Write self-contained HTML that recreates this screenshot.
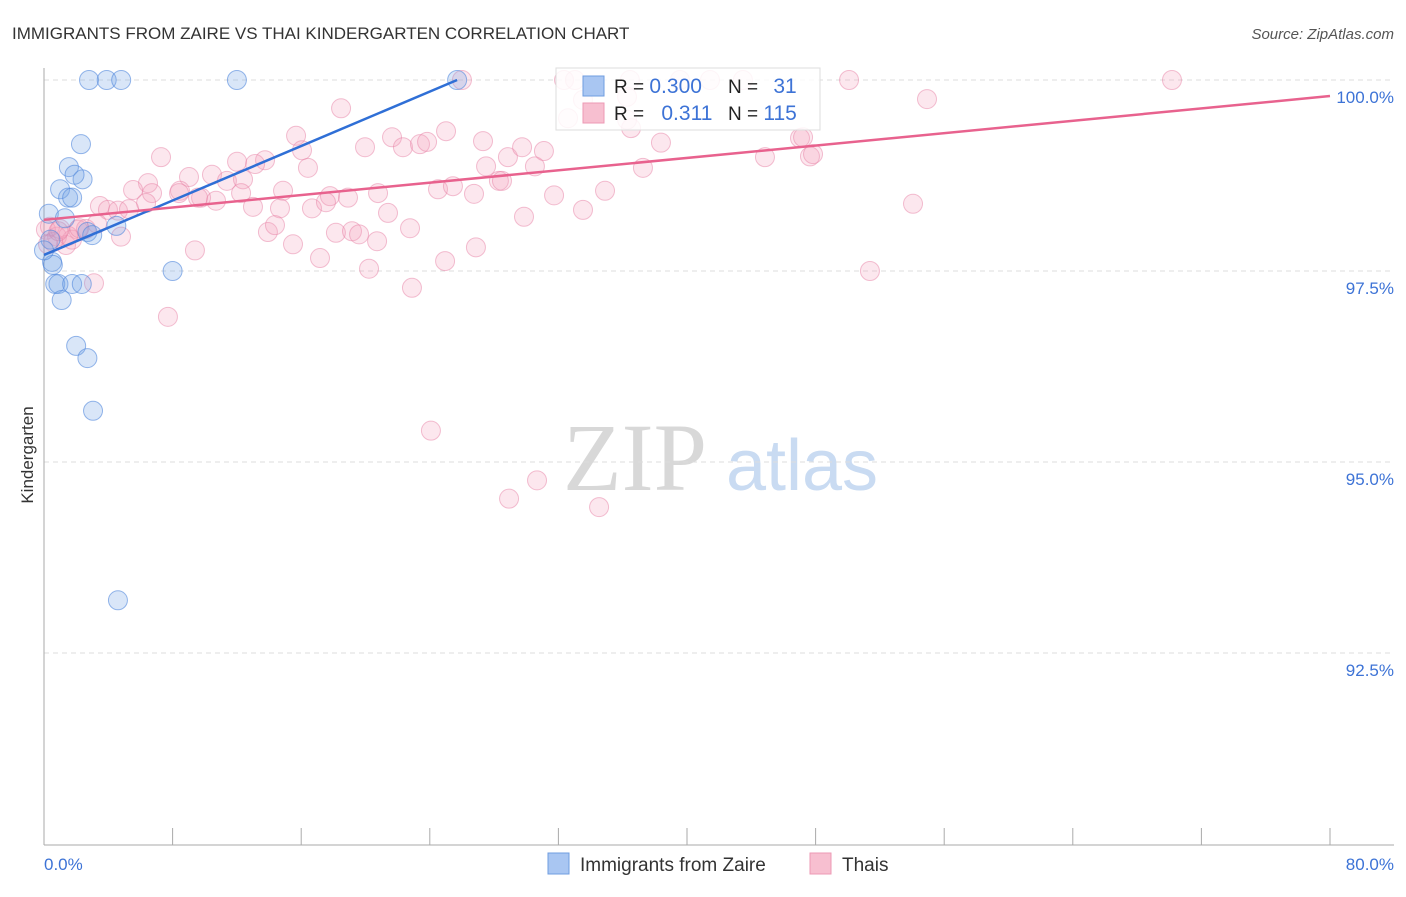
<!DOCTYPE html>
<html><head><meta charset="utf-8"><style>
body{margin:0;background:#fff;font-family:"Liberation Sans",sans-serif;}
svg text{font-family:"Liberation Sans",sans-serif;}
</style></head><body>
<svg id="c" width="1406" height="892" xmlns="http://www.w3.org/2000/svg">
<text x="12" y="39" font-size="17" fill="#333">IMMIGRANTS FROM ZAIRE VS THAI KINDERGARTEN CORRELATION CHART</text>
<text x="1394" y="39" font-size="15" fill="#555" text-anchor="end" font-style="italic">Source: ZipAtlas.com</text>
<text x="635" y="490" font-size="96" fill="#d8d8d8" text-anchor="middle" style="font-family:'Liberation Serif',serif">ZIP</text>
<text x="802" y="490" font-size="72" fill="#c9dbf2" text-anchor="middle">atlas</text>
<g id="grid"></g><g id="axes"></g><g id="pts"></g><g id="lines"></g>
<text x="33" y="455" font-size="17" fill="#333" text-anchor="middle" transform="rotate(-90 33 455)">Kindergarten</text>
<text x="44" y="870" font-size="17" fill="#3d73d6">0.0%</text>
<text x="1394" y="870" font-size="17" fill="#3d73d6" text-anchor="end">80.0%</text>
<g>
<rect x="556" y="68" width="264" height="62" fill="#fff" fill-opacity="0.85" stroke="#ddd"/>
<rect x="583" y="76" width="21" height="20" fill="#a9c6f2" stroke="#6f9de0"/>
<rect x="583" y="103" width="21" height="20" fill="#f7bfd0" stroke="#ec9ab4"/>
<text x="614" y="93" font-size="19" fill="#222">R = <tspan fill="#3d73d6" font-size="21">0.300</tspan></text>
<text x="728" y="93" font-size="19" fill="#222">N = <tspan fill="#3d73d6" dx="10" font-size="21">31</tspan></text>
<text x="614" y="120" font-size="19" fill="#222">R = <tspan fill="#3d73d6" dx="12" font-size="21">0.311</tspan></text>
<text x="728" y="120" font-size="19" fill="#222">N = <tspan fill="#3d73d6" font-size="21">115</tspan></text>
</g>
<g>
<rect x="548" y="853" width="21" height="21" fill="#a9c6f2" stroke="#6f9de0"/>
<text x="580" y="871" font-size="19" fill="#333">Immigrants from Zaire</text>
<rect x="810" y="853" width="21" height="21" fill="#f7bfd0" stroke="#ec9ab4"/>
<text x="842" y="871" font-size="19" fill="#333">Thais</text>
</g>
</svg>
<script>
const yTicks=[100,97.5,95,92.5];
const yTickLabels=["100.0%","97.5%","95.0%","92.5%"];
const blueX=[2.8,3.9,4.8,12.0,25.7,2.3,1.55,2.4,1.9,1.0,1.5,1.75,0.3,1.3,0.4,2.7,3.0,4.5,0.5,0.55,0.7,0.9,1.75,2.35,1.1,8.0,2.0,2.7,3.05,4.6,0];
const blueY=[100,100,100,100,100,99.16,98.86,98.70,98.76,98.57,98.46,98.46,98.25,98.19,97.91,98.01,97.97,98.09,97.62,97.58,97.33,97.33,97.33,97.33,97.12,97.50,96.52,96.36,95.67,93.19,97.77];
const pinkX=[18.48,15.68,16.05,7.28,12.01,13.75,13.13,16.42,9.02,10.45,11.38,12.38,6.47,5.54,8.46,8.40,6.72,6.35,9.77,10.70,12.26,14.87,9.58,3.48,3.98,4.60,5.29,13.00,14.68,16.67,17.79,18.91,17.54,20.78,21.40,24.51,25.44,26.75,28.30,31.73,33.53,34.90,29.86,18.16,19.16,19.60,20.72,22.77,13.93,14.37,15.49,17.17,20.22,22.89,24.95,26.87,9.39,7.71,3.11,0.81,1.37,1.74,2.12,2.61,4.79,0.12,0.37,0.56,1.00,0.25,19.97,21.65,22.33,23.39,23.83,25.01,27.31,27.50,28.49,28.86,29.74,30.54,31.10,36.52,38.38,37.26,44.85,47.03,47.22,47.65,47.84,50.08,54.93,70.17,54.06,51.38,24.07,30.67,28.93,34.53,26.00,32.35,33.03,33.53,32.60,36.45,39.56,41.43,36.27,43.48,36.27,1.5,2.2,0.9,3.3];
const pinkY=[99.63,99.27,99.08,98.99,98.93,98.95,98.90,98.85,98.73,98.76,98.68,98.70,98.65,98.56,98.55,98.52,98.52,98.39,98.46,98.42,98.52,98.55,98.46,98.35,98.30,98.29,98.31,98.34,98.32,98.32,98.48,98.46,98.40,98.52,98.26,98.57,98.61,98.51,98.68,98.49,98.30,98.55,98.21,98.00,98.02,97.98,97.89,98.06,98.01,98.10,97.85,97.67,97.53,97.28,97.63,97.81,97.77,96.90,97.34,97.95,97.84,97.91,98.04,98.05,97.95,98.04,98.08,97.88,98.05,97.85,99.12,99.25,99.12,99.16,99.19,99.33,99.20,98.87,98.68,98.99,99.12,98.87,99.07,99.37,99.18,98.85,98.99,99.24,99.25,99.00,99.03,100,99.75,100,98.38,97.50,95.41,94.76,94.52,94.41,100,100,100,99.74,99.50,100,100,100,99.78,100,99.48,97.96,98.06,98.02,98.12];
const blueTrend=[[0,97.71],[25.7,100.0]];
const pinkTrend=[[0,98.17],[80,99.79]];
const X=v=>44+v*16.075, Y=v=>80+(100-v)*76.4;
const NS="http://www.w3.org/2000/svg";
function mk(t,a,p){const e=document.createElementNS(NS,t);for(const k in a)e.setAttribute(k,a[k]);document.getElementById(p).appendChild(e);return e;}
yTicks.forEach((t,i)=>{
 const l=mk('line',{x1:44,x2:1394,y1:Y(t),y2:Y(t),stroke:'#ddd','stroke-dasharray':'5,4'},'grid');
 
 
 const tx=mk('text',{x:1394,y:Y(t)+23,'font-size':17,fill:'#3d73d6','text-anchor':'end'},'grid');tx.textContent=yTickLabels[i];
 
 
});
const ax=mk('line',{x1:44,x2:44,y1:68,y2:845,stroke:'#aaa'},'axes');


const bx=mk('line',{x1:44,x2:1394,y1:845,y2:845,stroke:'#aaa'},'axes');


for(let i=0;i<=10;i++){const t=mk('line',{x1:X(i*8),x2:X(i*8),y1:828,y2:845,stroke:'#aaa'},'axes');
 
 }
pinkX.forEach((x,i)=>{const c=mk('circle',{cx:X(x),cy:Y(pinkY[i]),r:9.5,fill:'rgba(242,160,188,0.25)',stroke:'rgba(232,130,165,0.5)','stroke-width':1},'pts');
 
 });
blueX.forEach((x,i)=>{const c=mk('circle',{cx:X(x),cy:Y(blueY[i]),r:9.5,fill:'rgba(120,165,230,0.28)',stroke:'rgba(80,135,220,0.6)','stroke-width':1},'pts');
 
 });
const bl=mk('line',{x1:X(blueTrend[0][0]),y1:Y(blueTrend[0][1]),x2:X(blueTrend[1][0]),y2:Y(blueTrend[1][1]),stroke:'#2f6fd6','stroke-width':2.5},'lines');


const pl=mk('line',{x1:X(pinkTrend[0][0]),y1:Y(pinkTrend[0][1]),x2:X(pinkTrend[1][0]),y2:Y(pinkTrend[1][1]),stroke:'#e8628e','stroke-width':2.5},'lines');


</script>
</body></html>
